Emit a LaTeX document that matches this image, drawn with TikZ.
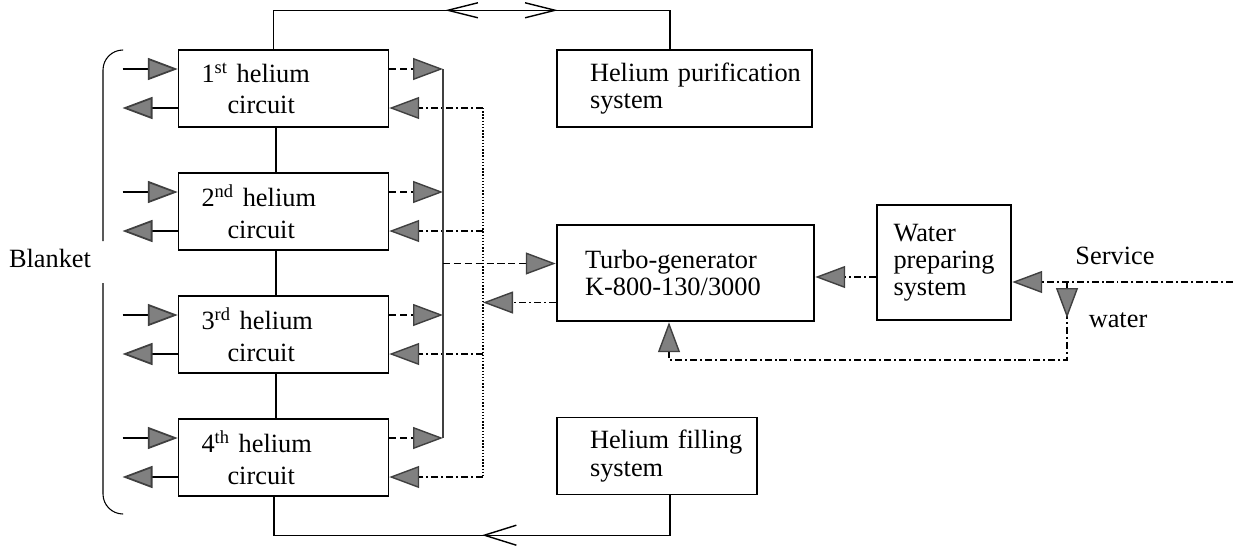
\documentclass[tikz,border=0pt]{standalone}
\usepackage{fontspec}
\setmainfont{Liberation Serif}
\usetikzlibrary{arrows.meta,decorations.markings}

\begin{document}
\begin{tikzpicture}[
  every node/.style={font=\fontsize{15}{15.5}\selectfont},
  circ/.style={draw=black,line width=0.8pt,minimum width=4.2cm,minimum height=1.54cm,text width=3.28cm,inner xsep=0.46cm,align=left,font=\fontsize{15}{18}\selectfont},
  sysbox/.style={draw=black,line width=0.8pt,minimum height=1.54cm,align=left},
  plant/.style={draw=black,line width=1.4pt,align=left},
  feed/.style={line width=1pt},
  fwd/.style={line width=0.8pt,dash pattern=on 4pt off 2.2pt},
  ret/.style={line width=0.8pt,dash pattern=on 4pt off 1.7pt on 1.1pt off 1.7pt},
  coll/.style={line width=0.6pt,black!75},
  pipe/.style={line width=0.8pt},
  tri/.style={-{Triangle[length=6mm,width=4.4mm,fill=black!50,color=black!75]}}]
\useasboundingbox (0,0) rectangle (24.66,-10.94);
\node[circ] (c1) at (5.67,-1.77) {1\textsuperscript{st} helium\\\hspace*{0.52cm}circuit};
\node[circ] (c2) at (5.67,-4.23) {2\textsuperscript{nd} helium\\\hspace*{0.52cm}circuit};
\node[circ] (c3) at (5.67,-6.69) {3\textsuperscript{rd} helium\\\hspace*{0.52cm}circuit};
\node[circ] (c4) at (5.67,-9.15) {4\textsuperscript{th} helium\\\hspace*{0.52cm}circuit};
\node[sysbox,minimum width=5.1cm,text width=3.78cm,inner xsep=0.66cm] (pur) at (13.69,-1.77) {\mbox{Helium purification}\\system};
\node[sysbox,minimum width=4cm,text width=2.68cm,inner xsep=0.66cm] (fl) at (13.14,-9.12) {\mbox{Helium filling}\\system};
\node[plant,minimum width=5.14cm,minimum height=1.92cm,text width=4.02cm,inner xsep=0.56cm] (tg) at (13.71,-5.46) {Turbo-generator\\K-800-130/3000};
\node[plant,minimum width=2.68cm,minimum height=2.3cm] (wp) at (18.88,-5.25) {Water\\preparing\\system};
\node (bl) at (1.0,-5.16) {Blanket};
\node (sv) at (22.3,-5.12) {Service};
\node (wt) at (22.36,-6.4) {water};
\coordinate (feedx) at (2.45,0);
\coordinate (colx) at (8.86,0);
\coordinate (retx) at (9.66,0);
\coordinate (svc) at (24.66,-5.64);
\coordinate (junc) at (21.34,-5.64);
\coordinate (tin) at ([yshift=0.19cm]tg.west);
\coordinate (tout) at ([yshift=-0.59cm]tg.west);
\coordinate (wout) at ([yshift=-0.29cm]wp.west);
\draw[line width=0.6pt,rounded corners=0.4cm] (2.46,-1.0) -| (2.06,-4.82);
\draw[line width=0.6pt,rounded corners=0.4cm] (2.06,-5.66) |- (2.46,-10.28);
\foreach \i in {1,...,4} {
  \coordinate (wi\i) at ([yshift=0.39cm]c\i.west);
  \coordinate (wo\i) at ([yshift=-0.39cm]c\i.west);
  \coordinate (hi\i) at ([yshift=0.39cm]c\i.east);
  \coordinate (lo\i) at ([yshift=-0.39cm]c\i.east);
  \draw[feed,tri] (wi\i -| feedx) -- (wi\i);
  \draw[feed,tri] (wo\i) -- (wo\i -| feedx);
  \draw[fwd,tri] (hi\i) -- (hi\i -| colx);
  \draw[ret,tri] (lo\i -| retx) -- (lo\i);
}
\foreach \i/\j in {1/2,2/3,3/4}
  \draw[pipe] ([xshift=-0.15cm]c\i.south) -- ([xshift=-0.15cm]c\j.north);
\draw[coll] (hi1 -| colx) -- (hi4 -| colx);
\draw[line width=0.6pt,dash pattern=on 0.8pt off 1pt] (lo1 -| retx) -- (lo4 -| retx);
\draw[fwd,tri] (tin -| colx) -- (tin);
\draw[ret,tri] (tout) -- (tout -| retx);
\draw[ret,tri] (wout) -- (wout -| tg.east);
\draw[ret,tri] (svc) -- (svc -| wp.east);
\draw[ret,tri,postaction={decorate,decoration={markings,mark=at position 0.72cm with {\arrow{Triangle[length=6mm,width=4.4mm,fill=black!50,color=black!75]}}}}]
  (junc) -- ++(0,-1.56) -| ([xshift=-0.33cm]tg.south);
\draw[pipe,postaction={decorate,decoration={markings,
  mark=at position 4.21cm with {\arrowreversed{Straight Barb[length=6mm,width=3mm]}},
  mark=at position 6.47cm with {\arrow{Straight Barb[length=6mm,width=3mm]}}}}]
  ([xshift=-0.2cm]c1.north) -- ++(0,0.78) -| ([xshift=-0.29cm]pur.north);
\draw[pipe,postaction={decorate,decoration={markings,
  mark=at position 4.56cm with {\arrow{Straight Barb[length=6.4mm,width=4mm]}}}}]
  ([xshift=0.26cm]fl.south) -- ++(0,-0.8) -| ([xshift=-0.19cm]c4.south);
\end{tikzpicture}
\end{document}
